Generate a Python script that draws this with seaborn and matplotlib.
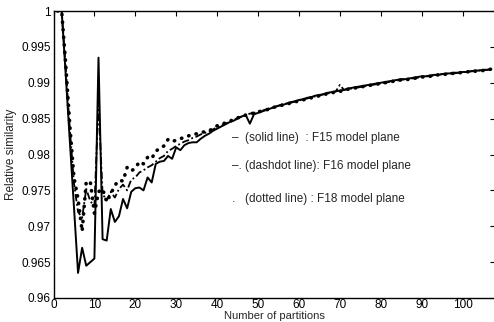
import matplotlib
matplotlib.use('Agg')
import matplotlib.pyplot as plt
import seaborn as sns
import pandas as pd

# number of partitions (x) and relative similarity for each model plane
partitions = list(range(1, 108))

f15_solid = [
    1.0000, 1.0000, 0.9910, 0.9818, 0.9727, 0.9635, 0.9670, 0.9645, 0.9650, 0.9655,
    0.9935, 0.9682, 0.9680, 0.9724, 0.9706, 0.9714, 0.9738, 0.9725, 0.9748, 0.9753,
    0.9754, 0.9750, 0.9768, 0.9761, 0.9787, 0.9790, 0.9791, 0.9798, 0.9794, 0.9810,
    0.9806, 0.9813, 0.9816, 0.9817, 0.9817, 0.9822, 0.9826, 0.9829, 0.9833, 0.9836,
    0.9839, 0.9842, 0.9845, 0.9847, 0.9850, 0.9853, 0.9855, 0.9843, 0.9856, 0.9858,
    0.9860, 0.9862, 0.9864, 0.9866, 0.9868, 0.9869, 0.9871, 0.9873, 0.9874, 0.9876,
    0.9877, 0.9879, 0.9880, 0.9882, 0.9883, 0.9884, 0.9886, 0.9887, 0.9888, 0.9889,
    0.9890, 0.9892, 0.9893, 0.9894, 0.9895, 0.9896, 0.9897, 0.9898, 0.9899, 0.9900,
    0.9901, 0.9902, 0.9903, 0.9904, 0.9905, 0.9905, 0.9906, 0.9907, 0.9908, 0.9909,
    0.9909, 0.9910, 0.9911, 0.9911, 0.9912, 0.9913, 0.9913, 0.9914, 0.9914, 0.9915,
    0.9915, 0.9916, 0.9917, 0.9917, 0.9918, 0.9918, 0.9919,
]

f16_dashdot = [
    1.0000, 1.0000, 0.9920, 0.9835, 0.9760, 0.9720, 0.9712, 0.9752, 0.9735, 0.9728,
    0.9872, 0.9745, 0.9736, 0.9748, 0.9740, 0.9752, 0.9758, 0.9750, 0.9765, 0.9768,
    0.9775, 0.9778, 0.9782, 0.9785, 0.9790, 0.9795, 0.9798, 0.9805, 0.9808, 0.9812,
    0.9815, 0.9818, 0.9820, 0.9823, 0.9825, 0.9828, 0.9830, 0.9832, 0.9835, 0.9838,
    0.9840, 0.9843, 0.9845, 0.9848, 0.9851, 0.9853, 0.9855, 0.9857, 0.9858, 0.9860,
    0.9861, 0.9863, 0.9865, 0.9866, 0.9868, 0.9870, 0.9871, 0.9872, 0.9874, 0.9875,
    0.9877, 0.9878, 0.9880, 0.9881, 0.9882, 0.9884, 0.9885, 0.9886, 0.9888, 0.9897,
    0.9890, 0.9891, 0.9892, 0.9893, 0.9894, 0.9895, 0.9896, 0.9897, 0.9898, 0.9899,
    0.9900, 0.9901, 0.9902, 0.9903, 0.9904, 0.9905, 0.9906, 0.9906, 0.9907, 0.9908,
    0.9909, 0.9909, 0.9910, 0.9911, 0.9912, 0.9912, 0.9913, 0.9913, 0.9914, 0.9915,
    0.9915, 0.9916, 0.9916, 0.9917, 0.9918, 0.9918, 0.9919,
]

f18_dotted = [
    1.0000, 1.0000, 0.9925, 0.9840, 0.9768, 0.9738, 0.9693, 0.9762, 0.9762, 0.9718,
    0.9748, 0.9752, 0.9734, 0.9745, 0.9757, 0.9764, 0.9763, 0.9782, 0.9777, 0.9781,
    0.9790, 0.9787, 0.9796, 0.9794, 0.9805, 0.9808, 0.9812, 0.9821, 0.9818, 0.9820,
    0.9822, 0.9824, 0.9826, 0.9827, 0.9829, 0.9830, 0.9832, 0.9833, 0.9836, 0.9840,
    0.9842, 0.9844, 0.9846, 0.9849, 0.9851, 0.9853, 0.9855, 0.9856, 0.9858, 0.9859,
    0.9861, 0.9862, 0.9864, 0.9866, 0.9867, 0.9869, 0.9870, 0.9872, 0.9873, 0.9875,
    0.9876, 0.9878, 0.9879, 0.9880, 0.9882, 0.9883, 0.9885, 0.9886, 0.9887, 0.9888,
    0.9889, 0.9891, 0.9892, 0.9893, 0.9894, 0.9895, 0.9896, 0.9897, 0.9898, 0.9899,
    0.9900, 0.9901, 0.9902, 0.9903, 0.9904, 0.9904, 0.9905, 0.9906, 0.9907, 0.9908,
    0.9908, 0.9909, 0.9910, 0.9911, 0.9911, 0.9912, 0.9913, 0.9913, 0.9914, 0.9914,
    0.9915, 0.9916, 0.9916, 0.9917, 0.9917, 0.9918, 0.9919,
]

y_ticks = [0.96, 0.965, 0.97, 0.975, 0.98, 0.985, 0.99, 0.995, 1.0]
y_tick_labels = ['0.96', '0.965', '0.97', '0.975', '0.98', '0.985', '0.99', '0.995', '1']
x_ticks = [0, 10, 20, 30, 40, 50, 60, 70, 80, 90, 100]

legend_marks = ['\u2013', '\u2013.', '.']
legend_texts = ['(solid line)  : F15 model plane',
                '(dashdot line): F16 model plane',
                '(dotted line) : F18 model plane']

sns.set_style('white')
plt.rcParams['font.family'] = ['Liberation Sans', 'DejaVu Sans']
plt.rcParams['xtick.direction'] = 'in'
plt.rcParams['ytick.direction'] = 'in'

df = pd.DataFrame({'partitions': partitions, 'F15': f15_solid,
                   'F16': f16_dashdot, 'F18': f18_dotted})

fig = plt.figure(figsize=(4.94, 3.22), dpi=100)
ax = fig.add_axes([53.5 / 494, 1 - 298 / 322, 441 / 494, 287 / 322])

sns.lineplot(data=df, x='partitions', y='F15', ax=ax, color='black', lw=1.4)
sns.lineplot(data=df, x='partitions', y='F16', ax=ax, color='black', lw=1.3,
             linestyle=(0, (4, 1.5, 1, 1.5)))
sns.lineplot(data=df, x='partitions', y='F18', ax=ax, color='black', lw=2.6,
             linestyle=(0, (0.1, 2.0)), dash_capstyle='round')

ax.set_xlim(0, 107.8)
ax.set_ylim(0.96, 1.0)
ax.set_xticks(x_ticks)
ax.set_yticks(y_ticks)
ax.set_yticklabels(y_tick_labels)
ax.tick_params(axis='both', which='both', labelsize=8.5, length=3.5, width=0.8,
               top=True, right=True, pad=2, colors='black')
ax.tick_params(axis='x', pad=1)
for sp in ax.spines.values():
    sp.set_color('black')
    sp.set_linewidth(1.0)

ax.set_xlabel('Number of partitions', fontsize=8)
ax.set_ylabel('Relative similarity', fontsize=8.5)
ax.xaxis.set_label_coords(0.5, -0.044)
ax.yaxis.set_label_coords(-0.082, 0.5)

for i, (mark, txt) in enumerate(zip(legend_marks, legend_texts)):
    yy = [0.557, 0.460, 0.345][i]
    ax.text(0.405, yy, mark, transform=ax.transAxes, fontsize=8.5, va='center')
    ax.text(0.435, yy, txt, transform=ax.transAxes, fontsize=8.5, va='center')

fig.savefig('out.png', dpi=100)
